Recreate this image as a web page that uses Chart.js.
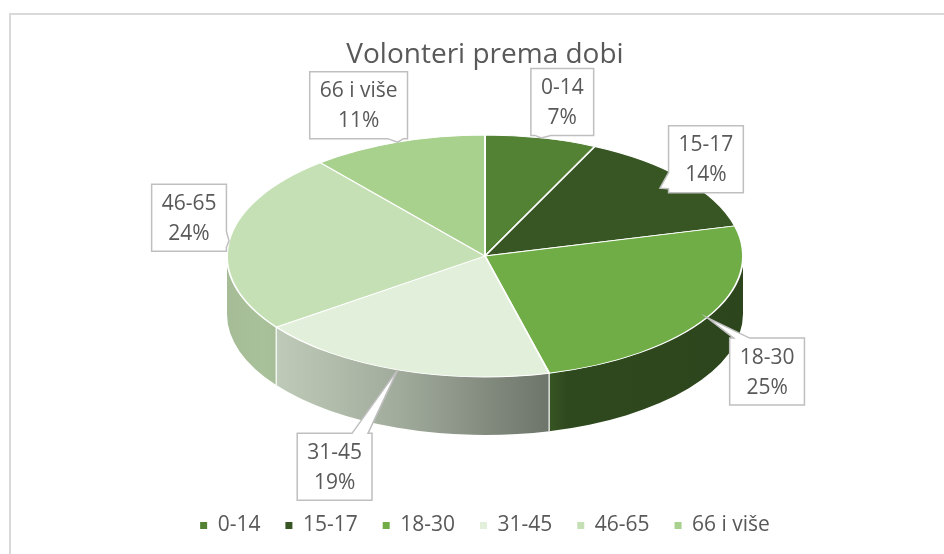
<!DOCTYPE html>
<html><head><meta charset="utf-8">
<script src="https://cdn.jsdelivr.net/npm/chart.js@4/dist/chart.umd.min.js"></script>
<style>html,body{margin:0;padding:0;background:#fff;}canvas{display:block;}</style>
</head><body>
<canvas id="c" width="944" height="554"></canvas>
<script>
// ---- data ----
const categories = ['0-14', '15-17', '18-30', '31-45', '46-65', '66 i više'];
const percentages = [7, 14, 25, 19, 24, 11];
const sliceColors = ['#548235', '#375623', '#70AD47', '#E2EFDA', '#C5E0B4', '#A9D18E'];
const chartTitle = 'Volonteri prema dobi';

// ---- layout / style (not data) ----
const GEO = { rx: 258, ry: 121, cy: 256, depth: 58 };
const labelPlacement = [
  { f: 1.00, dx: 21,  dy: -36, side: 'bottom' },
  { f: 0.88, dx: 46,  dy: -29, side: 'left' },
  { f: 1.00, dx: 60,  dy: 54,  side: 'top' },
  { f: 1.00, dx: -63, dy: 97,  side: 'top' },
  { f: 1.00, dx: -40, dy: -23, side: 'right' },
  { f: 1.00, dx: -39, dy: -37, side: 'bottom' }
];
const FONT = '"Open Sans", "Noto Sans", sans-serif';
const TEXT_COLOR = '#595959';

function hexToRgb(h) {
  const n = parseInt(h.slice(1), 16);
  return [(n >> 16) & 255, (n >> 8) & 255, n & 255];
}
function shade(h, k) {
  const c = hexToRgb(h).map(v => Math.round(v * k));
  return 'rgb(' + c.join(',') + ')';
}
function centerX(chart) { return (chart.chartArea.left + chart.chartArea.right) / 2; }
function proj(chart, ang, f) {
  return { x: centerX(chart) + GEO.rx * f * Math.cos(ang), y: GEO.cy + GEO.ry * f * Math.sin(ang) };
}
function applyTransform(ctx, chart, arc, dy) {
  ctx.translate(centerX(chart), GEO.cy + dy);
  ctx.scale(GEO.rx / arc.outerRadius, GEO.ry / arc.outerRadius);
  ctx.translate(-arc.x, -arc.y);
}

const pie3d = {
  id: 'pie3d',
  beforeDraw(chart) {
    const ctx = chart.ctx;
    ctx.save();
    ctx.fillStyle = '#fff';
    ctx.fillRect(0, 0, chart.width, chart.height);
    ctx.strokeStyle = '#d9d9d9';
    ctx.lineWidth = 2;
    ctx.strokeRect(10, 14, chart.width + 20, chart.height + 20);
    ctx.restore();
  },
  beforeDatasetsDraw(chart) {
    const ctx = chart.ctx;
    const meta = chart.getDatasetMeta(0);
    const stops = [[0, 0.84], [0.07, 0.86], [0.34, 0.71], [0.63, 0.48], [0.66, 0.42], [1, 0.40]];
    meta.data.forEach((arc, i) => {
      const R = arc.outerRadius;
      const D = GEO.depth * R / GEO.ry;
      const ranges = [[0, Math.PI], [2 * Math.PI, 3 * Math.PI]];
      ranges.forEach(([lo, hi]) => {
        const a1 = Math.max(arc.startAngle, lo), a2 = Math.min(arc.endAngle, hi);
        if (a2 <= a1) return;
        ctx.save();
        applyTransform(ctx, chart, arc, 0);
        const g = ctx.createLinearGradient(arc.x - R, 0, arc.x + R, 0);
        stops.forEach(([t, k]) => g.addColorStop(t, shade(sliceColors[i], k)));
        ctx.beginPath();
        ctx.arc(arc.x, arc.y, R, a1, a2);
        ctx.arc(arc.x, arc.y + D, R, a2, a1, true);
        ctx.closePath();
        ctx.fillStyle = g;
        ctx.fill();
        ctx.restore();
      });
    });
    meta.data.forEach(arc => {
      const a = arc.startAngle;
      if (Math.sin(a) > 0) {
        const p = proj(chart, a, 1);
        ctx.save();
        ctx.strokeStyle = 'rgba(255,255,255,0.8)';
        ctx.lineWidth = 1.5;
        ctx.beginPath();
        ctx.moveTo(p.x, p.y);
        ctx.lineTo(p.x, p.y + GEO.depth);
        ctx.stroke();
        ctx.restore();
      }
    });
    ctx.save();
    applyTransform(ctx, chart, meta.data[0], 0);
  },
  afterDatasetsDraw(chart) {
    chart.ctx.restore();
  },
  afterDraw(chart) {
    const ctx = chart.ctx;
    const meta = chart.getDatasetMeta(0);
    ctx.save();
    ctx.font = '21px ' + FONT;
    meta.data.forEach((arc, i) => {
      const p = labelPlacement[i];
      const mid = (arc.startAngle + arc.endAngle) / 2;
      const tip = proj(chart, mid, p.f);
      const bx = tip.x + p.dx, by = tip.y + p.dy;
      const lines = [categories[i], percentages[i] + '%'];
      const tw = Math.max(...lines.map(t => ctx.measureText(t).width));
      const w = tw + 20, h = 67;
      const L = bx - w / 2, Rr = bx + w / 2, T = by - h / 2, B = by + h / 2;
      const clamp = (v, a, b) => Math.max(a, Math.min(b, v));
      const hw = 8;
      ctx.beginPath();
      ctx.moveTo(L, T);
      if (p.side === 'top') {
        const c = clamp(tip.x, L + 12, Rr - 12);
        ctx.lineTo(c - hw, T); ctx.lineTo(tip.x, tip.y); ctx.lineTo(c + hw, T);
      }
      ctx.lineTo(Rr, T);
      if (p.side === 'right') {
        const c = clamp(tip.y, T + 12, B - 12);
        ctx.lineTo(Rr, c - hw); ctx.lineTo(tip.x, tip.y); ctx.lineTo(Rr, c + hw);
      }
      ctx.lineTo(Rr, B);
      if (p.side === 'bottom') {
        const c = clamp(tip.x, L + 12, Rr - 12);
        ctx.lineTo(c + hw, B); ctx.lineTo(tip.x, tip.y); ctx.lineTo(c - hw, B);
      }
      ctx.lineTo(L, B);
      if (p.side === 'left') {
        const c = clamp(tip.y, T + 12, B - 12);
        ctx.lineTo(L, c + hw); ctx.lineTo(tip.x, tip.y); ctx.lineTo(L, c - hw);
      }
      ctx.closePath();
      ctx.fillStyle = '#fff';
      ctx.fill();
      ctx.strokeStyle = '#bfbfbf';
      ctx.lineWidth = 1.5;
      ctx.lineJoin = 'miter';
      ctx.stroke();
      ctx.fillStyle = TEXT_COLOR;
      ctx.textAlign = 'center';
      ctx.textBaseline = 'middle';
      ctx.fillText(lines[0], bx, by - 14);
      ctx.fillText(lines[1], bx, by + 16);
    });
    ctx.restore();
  }
};

new Chart(document.getElementById('c'), {
  type: 'pie',
  data: {
    labels: categories,
    datasets: [{
      data: percentages,
      backgroundColor: sliceColors,
      borderColor: '#ffffff',
      borderWidth: 1.5,
      clip: false
    }]
  },
  options: {
    responsive: false,
    animation: false,
    events: [],
    layout: { padding: { left: 26, top: 13, right: 0, bottom: 8 } },
    plugins: {
      title: {
        display: true,
        text: chartTitle,
        color: TEXT_COLOR,
        font: { family: FONT, size: 28, weight: 'normal' },
        padding: { top: 25, bottom: 10 }
      },
      legend: {
        position: 'bottom',
        labels: {
          usePointStyle: true,
          boxWidth: 7,
          boxHeight: 7,
          padding: 25,
          color: TEXT_COLOR,
          font: { family: FONT, size: 21 },
          generateLabels: () => categories.map((c, i) => ({
            text: c, fillStyle: sliceColors[i], strokeStyle: sliceColors[i],
            lineWidth: 0, pointStyle: 'rect', hidden: false, index: i, fontColor: TEXT_COLOR
          }))
        }
      },
      tooltip: { enabled: false }
    }
  },
  plugins: [pie3d]
});
</script>
</body></html>
